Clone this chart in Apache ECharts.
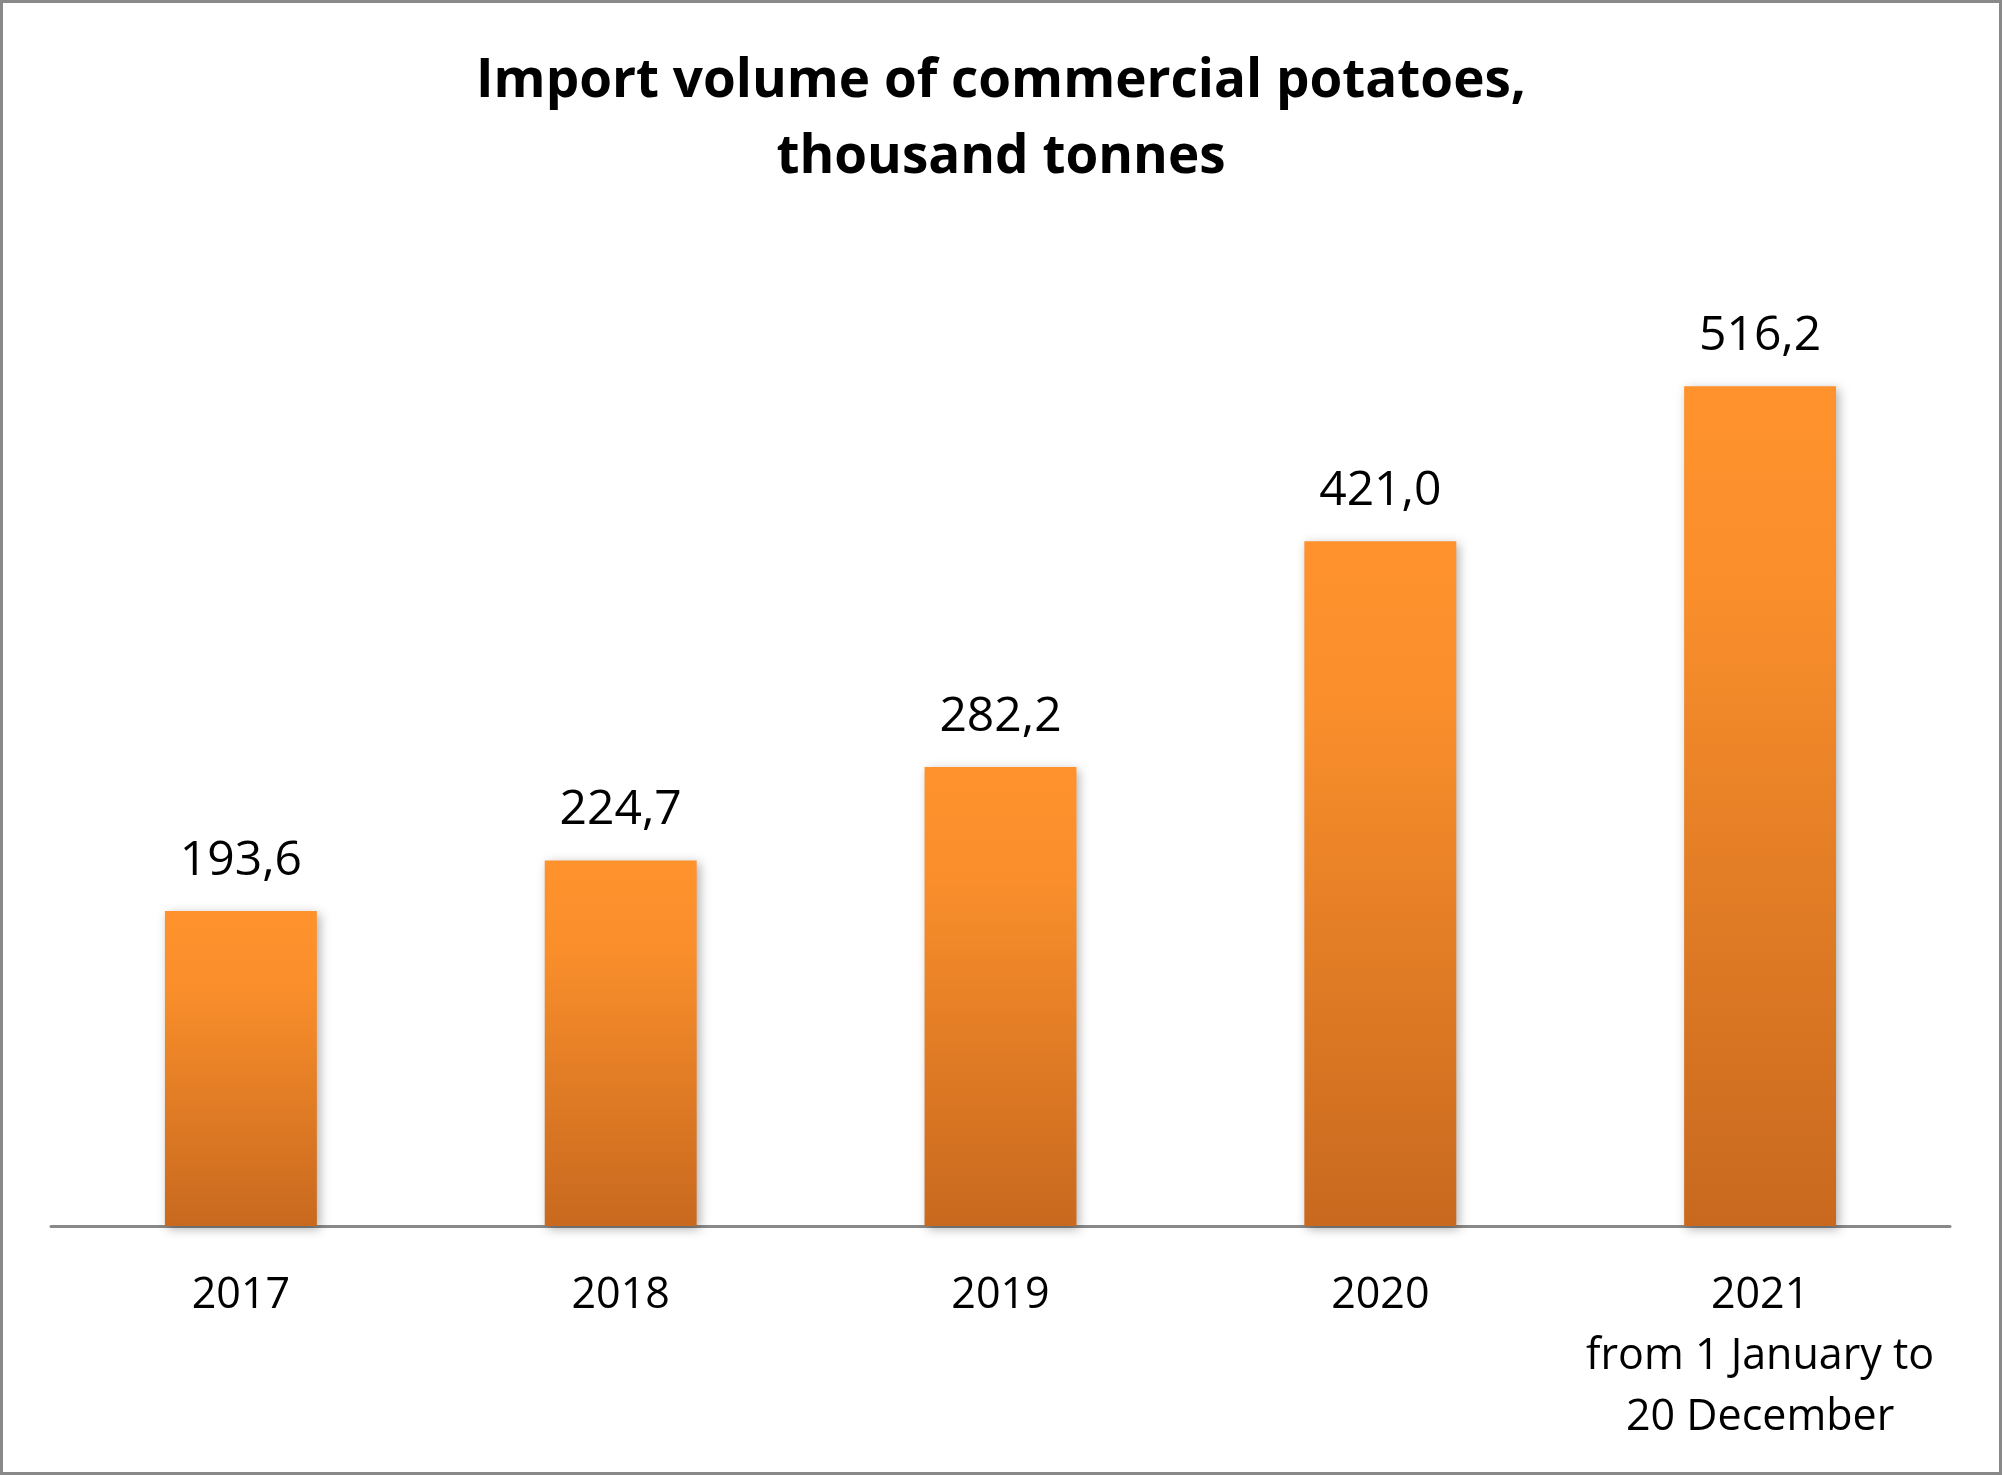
<!DOCTYPE html>
<html>
<head>
<meta charset="utf-8">
<script src="https://cdn.jsdelivr.net/npm/echarts@6/dist/echarts.min.js"></script>
<style>
html,body{margin:0;padding:0;background:#fff;}
#chart{width:2002px;height:1475px;}
</style>
</head>
<body>
<div id="chart"></div>
<script>
const categories = ["2017", "2018", "2019", "2020", "2021\nfrom 1 January to\n20 December"];
const values = [193.6, 224.7, 282.2, 421.0, 516.2];
const titleText = "Import volume of commercial potatoes,\nthousand tonnes";

const chart = echarts.init(document.getElementById('chart'), null, {renderer: 'canvas'});
const FONT = "'Open Sans', 'Noto Sans', sans-serif";
chart.setOption({
  backgroundColor: '#ffffff',
  animation: false,
  title: {
    text: titleText,
    left: 'center',
    top: 39,
    textStyle: {fontFamily: FONT, fontWeight: 'bold', fontSize: 53, lineHeight: 76, color: '#000'}
  },
  graphic: [{
    type: 'rect',
    shape: {x: 1.5, y: 1.5, width: 1999, height: 1472},
    style: {fill: 'none', stroke: '#898989', lineWidth: 3},
    silent: true
  }],
  grid: {left: 51, right: 52, top: 250, bottom: 249, containLabel: false},
  xAxis: {
    type: 'category',
    data: categories,
    axisTick: {show: false},
    axisLine: {lineStyle: {color: '#898989', width: 3}},
    axisLabel: {margin: 39, fontFamily: FONT, fontSize: 43, lineHeight: 61, color: '#000', interval: 0}
  },
  yAxis: {
    type: 'value', min: 0, max: 600, show: false,
    splitLine: {show: false}
  },
  series: [{
    type: 'bar',
    data: values,
    barWidth: '40%',
    itemStyle: {
      color: new echarts.graphic.LinearGradient(0, 0, 0, 1, [
        {offset: 0, color: '#FF922C'},
        {offset: 0.25, color: '#F98E2B'},
        {offset: 1, color: '#C8691F'}
      ]),
      shadowBlur: 10,
      shadowColor: 'rgba(0,0,0,0.3)',
      shadowOffsetX: 3,
      shadowOffsetY: 3
    },
    label: {
      show: true,
      position: 'top',
      distance: 26,
      fontFamily: FONT,
      fontSize: 48,
      lineHeight: 48,
      color: '#000',
      formatter: p => p.value.toFixed(1).replace('.', ',')
    }
  }]
});
</script>
</body>
</html>
